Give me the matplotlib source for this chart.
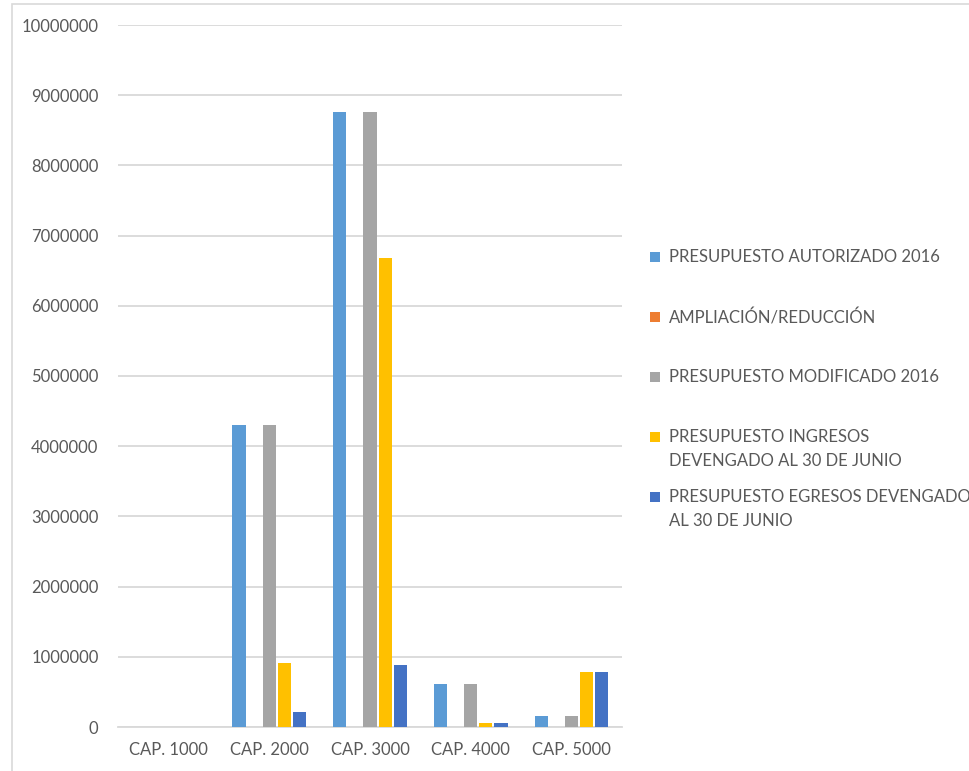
import numpy as np
import matplotlib
matplotlib.use("Agg")
import matplotlib.pyplot as plt
from matplotlib.patches import Rectangle

# Data
categories = ["CAP. 1000", "CAP. 2000", "CAP. 3000", "CAP. 4000", "CAP. 5000"]
autorizado = [0, 4300000, 8760000, 610000, 150000]
ampliacion = [0, 0, 0, 0, 0]
modificado = [0, 4300000, 8760000, 610000, 150000]
ingresos = [0, 910000, 6680000, 57000, 790000]
egresos = [0, 220000, 890000, 57000, 790000]

series_labels = [
    "PRESUPUESTO AUTORIZADO 2016",
    "AMPLIACIÓN/REDUCCIÓN",
    "PRESUPUESTO MODIFICADO 2016",
    "PRESUPUESTO INGRESOS\nDEVENGADO AL 30 DE JUNIO",
    "PRESUPUESTO EGRESOS DEVENGADO\nAL 30 DE JUNIO",
]
colors = ["#5B9BD5", "#ED7D31", "#A5A5A5", "#FFC000", "#4472C4"]
yticks = np.arange(0, 10000001, 1000000)

plt.rcParams['font.family'] = ['Lato', 'DejaVu Sans']
text_color = "#595959"

fig = plt.figure(figsize=(9.69, 7.71), dpi=100)
# thin grey frame around the chart (left and top only visible)
fig.patches.append(Rectangle((12 / 969, -0.1), 1.2, 1 - 4 / 771 + 0.1,
                             transform=fig.transFigure, fill=False,
                             edgecolor="#D9D9D9", linewidth=1.2))

ax = fig.add_axes([118 / 969, 44 / 771, 504 / 969, 702 / 771])

x = np.arange(len(categories))
step = 0.15
width = 0.13
all_series = [autorizado, ampliacion, modificado, ingresos, egresos]
for i, vals in enumerate(all_series):
    ax.bar(x + (i - 2) * step, vals, width=width, color=colors[i],
           label=series_labels[i], zorder=3)

ax.set_xlim(-0.5, len(categories) - 0.5)
ax.set_ylim(0, 10000000)
ax.set_yticks(yticks)
ax.set_yticklabels([str(v) for v in yticks])
ax.set_xticks(x)
ax.set_xticklabels(categories)
ax.tick_params(axis='both', length=0, labelsize=12, colors=text_color)
ax.tick_params(axis='y', pad=14)
ax.tick_params(axis='x', pad=11)
ax.grid(axis='y', color="#D9D9D9", linewidth=1.3, zorder=0)
for side in ["top", "right", "left"]:
    ax.spines[side].set_visible(False)
ax.spines["bottom"].set_color("#D9D9D9")
ax.spines["bottom"].set_linewidth(1.3)

# legend drawn by hand so the marker lines up with the first text line
legend_y = [257, 317, 377, 437, 497]
for i, lab in enumerate(series_labels):
    yy = 1 - legend_y[i] / 771
    fig.patches.append(Rectangle((650 / 969, yy - 5 / 771), 10 / 969, 10 / 771,
                                 transform=fig.transFigure,
                                 facecolor=colors[i], edgecolor="none"))
    fig.text(669 / 969, yy + 8 / 771, lab, ha="left", va="top", fontsize=12,
             color=text_color, linespacing=1.6)

fig.savefig("out.png", dpi=100, facecolor="white")
